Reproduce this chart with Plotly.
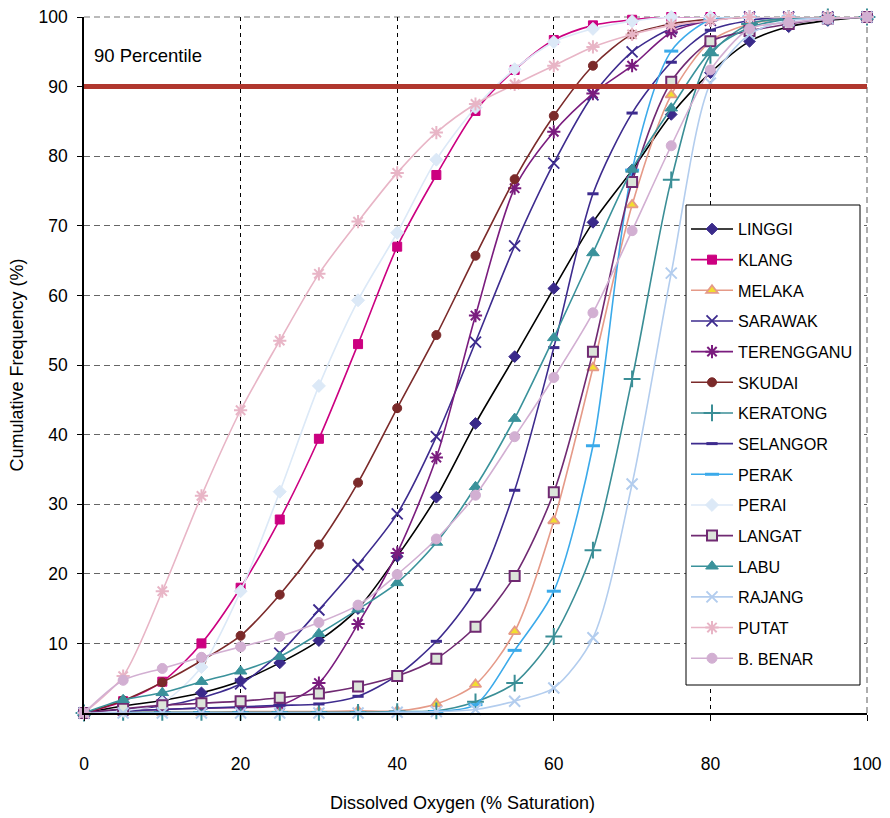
import plotly.graph_objects as go

x_do = [0, 5, 10, 15, 20, 25, 30, 35, 40, 45, 50, 55, 60, 65, 70, 75, 80, 85, 90, 95, 100]

linggi = [0, 1.0, 1.8, 2.9, 4.6, 7.2, 10.4, 15.0, 22.5, 31.0, 41.6, 51.2, 61.0, 70.5, 78.0, 86.0, 92.0, 96.5, 98.6, 99.5, 100]
klang = [0, 1.7, 4.5, 10.0, 18.0, 27.8, 39.4, 53.0, 67.0, 77.3, 86.5, 92.4, 96.7, 98.8, 99.6, 100, 100, 100, 100, 100, 100]
melaka = [0, 0.1, 0.1, 0.1, 0.2, 0.2, 0.2, 0.3, 0.3, 1.3, 4.1, 11.7, 27.6, 49.6, 73.0, 88.8, 96.5, 99.0, 99.8, 100, 100]
sarawak = [0, 0.5, 1.0, 2.2, 4.2, 8.6, 14.8, 21.3, 28.6, 39.7, 53.3, 67.1, 79.0, 88.8, 95.0, 98.3, 99.5, 100, 100, 100, 100]
terengganu = [0, 0.3, 0.5, 0.7, 0.8, 1.1, 4.3, 12.8, 23.0, 36.7, 57.1, 75.4, 83.5, 89.0, 93.0, 97.8, 99.5, 100, 100, 100, 100]
skudai = [0, 1.8, 4.4, 7.5, 11.1, 17.0, 24.2, 33.1, 43.8, 54.3, 65.7, 76.7, 85.8, 93.0, 97.5, 99.0, 99.7, 100, 100, 100, 100]
keratong = [0, 0.1, 0.1, 0.1, 0.1, 0.1, 0.1, 0.1, 0.2, 0.3, 1.6, 4.3, 11.0, 23.4, 48.0, 76.6, 94.5, 99.0, 99.8, 100, 100]
selangor = [0, 0.3, 0.5, 0.7, 0.9, 1.1, 1.3, 2.4, 5.4, 10.3, 17.7, 32.0, 52.5, 74.6, 86.2, 93.5, 98.1, 99.5, 100, 100, 100]
perak = [0, 0, 0, 0, 0, 0, 0, 0, 0.1, 0.2, 1.2, 9.0, 17.5, 38.4, 78.0, 95.1, 99.6, 100, 100, 100, 100]
perai = [0, 0.3, 1.5, 6.6, 17.5, 31.8, 47.0, 59.3, 69.0, 79.5, 87.0, 92.5, 96.4, 98.3, 99.4, 100, 100, 100, 100, 100, 100]
langat = [0, 0.6, 1.1, 1.4, 1.7, 2.2, 2.8, 3.8, 5.3, 7.8, 12.4, 19.7, 31.7, 51.9, 76.3, 90.7, 96.5, 98.0, 99.0, 99.8, 100]
labu = [0, 1.9, 2.9, 4.5, 6.0, 8.1, 11.4, 14.9, 18.7, 24.5, 32.5, 42.3, 53.9, 66.1, 78.1, 86.9, 95.0, 98.5, 99.7, 100, 100]
rajang = [0, 0, 0, 0, 0, 0, 0, 0, 0.1, 0.2, 0.5, 1.7, 3.6, 10.8, 32.9, 63.2, 90.5, 97.5, 99.5, 99.8, 100]
putat = [0, 5.3, 17.5, 31.2, 43.5, 53.5, 63.1, 70.6, 77.6, 83.4, 87.5, 90.3, 93.0, 95.7, 97.5, 98.8, 99.5, 100, 100, 100, 100]
b_benar = [0, 4.7, 6.4, 8.0, 9.5, 11.0, 13.0, 15.5, 19.9, 25.0, 31.3, 39.7, 48.2, 57.5, 69.3, 81.5, 92.4, 98.3, 99.2, 99.7, 100]

percentile_level = 90
x_ticks = [0, 20, 40, 60, 80, 100]
y_ticks = [10, 20, 30, 40, 50, 60, 70, 80, 90, 100]

# name, values, line colour, line width, marker symbol, size, fill, marker-line colour, marker-line width
series = [
    ("LINGGI", linggi, "#000000", 1.6, "diamond", 9, "#3A2A8A", "#3A2A8A", 1),
    ("KLANG", klang, "#CC0080", 1.6, "square", 9, "#CC0080", "#CC0080", 1),
    ("MELAKA", melaka, "#E59A88", 1.6, "triangle-up", 10, "#F2DE2E", "#E59A88", 1.8),
    ("SARAWAK", sarawak, "#3D2B8E", 1.6, "x-thin-open", 11, "#3D2B8E", "#3D2B8E", 1.8),
    ("TERENGGANU", terengganu, "#7A1C7E", 1.6, "asterisk-open", 11, "#7A1C7E", "#7A1C7E", 2),
    ("SKUDAI", skudai, "#7B2A2A", 1.6, "circle", 9, "#7B2A2A", "#7B2A2A", 1),
    ("KERATONG", keratong, "#3A8E96", 1.6, "cross-thin-open", 12, "#3A8E96", "#3A8E96", 2),
    ("SELANGOR", selangor, "#3D2B8E", 1.6, "line-ew-open", 8, "#3D2B8E", "#3D2B8E", 3),
    ("PERAK", perak, "#3BAAEA", 1.6, "line-ew-open", 10, "#3BAAEA", "#3BAAEA", 3),
    ("PERAI", perai, "#DCE9F7", 1.6, "diamond", 10, "#DCE9F7", "#DCE9F7", 1),
    ("LANGAT", langat, "#702A72", 1.6, "square", 10, "#DCE5DA", "#702A72", 2),
    ("LABU", labu, "#3A929B", 1.6, "triangle-up", 11, "#3A929B", "#3A929B", 1),
    ("RAJANG", rajang, "#B3CDEE", 1.6, "x-thin-open", 11, "#B3CDEE", "#B3CDEE", 2),
    ("PUTAT", putat, "#E8B5C6", 1.6, "asterisk-open", 11, "#E8B5C6", "#E8B5C6", 2),
    ("B. BENAR", b_benar, "#D2AFD2", 1.6, "circle", 10, "#D2AFD2", "#D2AFD2", 1),
]

fig = go.Figure()

for i, (name, vals, lc, lw, sym, sz, fc, mlc, mlw) in enumerate(series):
    fig.add_trace(go.Scatter(
        x=x_do, y=vals, name=name, mode="lines+markers",
        line=dict(color=lc, width=lw, shape="spline", smoothing=0.8),
        marker=dict(symbol=sym, size=sz, color=fc, line=dict(color=mlc, width=mlw)),
        cliponaxis=False, legendgroup=f"g{i}",
    ))

fig.add_trace(go.Scatter(
    x=[x_ticks[0], x_ticks[-1]], y=[percentile_level, percentile_level],
    mode="lines", line=dict(color="#B0372E", width=5), showlegend=False, hoverinfo="skip",
))

# dashed top and right frame
fig.add_shape(type="line", xref="paper", yref="paper", x0=0, x1=1, y0=1, y1=1,
              line=dict(color="#777777", width=1.2, dash="6px,4px"), layer="below")
fig.add_shape(type="line", xref="paper", yref="paper", x0=1, x1=1, y0=0, y1=1,
              line=dict(color="#777777", width=1.2, dash="6px,4px"), layer="below")

# legend box
lx0, lx1 = (686 - 84) / 783, (860 - 84) / 783
ly1, ly0 = (713 - 205) / 696, (713 - 685) / 696
fig.add_shape(type="rect", xref="paper", yref="paper", x0=lx0, x1=lx1, y0=ly0, y1=ly1,
              line=dict(color="#000000", width=1), fillcolor="white", layer="above")

fig.add_annotation(x=1, y=94.5, xref="x", yref="y", text="90 Percentile", showarrow=False,
                   xanchor="left", yanchor="middle", font=dict(size=18.5, color="#000000"))

# x-axis title
fig.add_annotation(x=(462 - 84) / 783, y=803, xref="paper", yref="paper", yshift=0,
                   text="Dissolved Oxygen (% Saturation)", showarrow=False,
                   xanchor="center", yanchor="middle", font=dict(size=18, color="#000000"))
fig.layout.annotations[-1].y = (713 - 803) / 696

fig.update_layout(
    width=890, height=818,
    margin=dict(l=84, r=23, t=17, b=105),
    paper_bgcolor="white", plot_bgcolor="white",
    font=dict(family="Liberation Sans, Arial, sans-serif", color="#000000"),
    showlegend=True,
    legend=dict(x=lx0 + 0.0, y=ly1 - 0.010, xanchor="left", yanchor="top",
                bgcolor="rgba(0,0,0,0)", borderwidth=0,
                font=dict(size=16.2), tracegroupgap=6.6, itemwidth=42),
)

fig.update_xaxes(
    range=[0, 100], tickvals=x_ticks, ticks="outside", ticklen=6, tickcolor="#000000",
    showline=True, linecolor="#000000", linewidth=1.5, zeroline=False,
    showgrid=True, gridcolor="#000000", gridwidth=1, griddash="4px,4px",
    tickfont=dict(size=17.5), ticklabelstandoff=28, automargin=False,
)
fig.update_yaxes(
    range=[0, 100], tickvals=y_ticks, ticks="outside", ticklen=5, tickcolor="#000000",
    showline=True, linecolor="#000000", linewidth=1.5, zeroline=False,
    showgrid=True, gridcolor="#666666", gridwidth=1.2, griddash="6px,4px",
    tickfont=dict(size=17.5), ticklabelstandoff=6, automargin=False,
    title=dict(text="Cumulative Frequency (%)", font=dict(size=18), standoff=10),
)

fig.write_html("out.html")
